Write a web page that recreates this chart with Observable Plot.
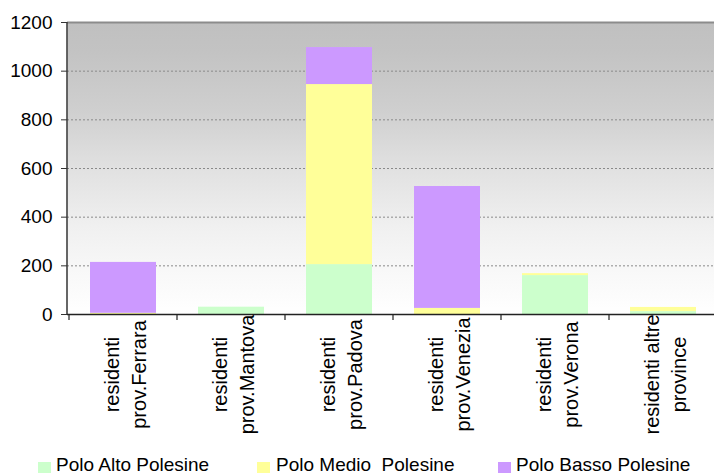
<!DOCTYPE html>
<html>
<head>
<meta charset="utf-8">
<script src="https://cdn.jsdelivr.net/npm/d3@7"></script>
<script src="https://cdn.jsdelivr.net/npm/@observablehq/plot@0.6"></script>
<style>
  html, body { margin: 0; padding: 0; background: #fff; overflow: hidden; }
  body { width: 714px; height: 474px; font-family: "Liberation Sans", Arial, sans-serif; }
  #chart { width: 718px; overflow: visible; }
  #legend { position: absolute; left: 0; top: 454px; width: 714px; height: 22px; font-size: 19px; color: #000; }
  .item { position: absolute; top: 0; line-height: 22px; white-space: pre; }
  .sw { position: absolute; width: 13px; height: 11px; top: 8px; }
</style>
</head>
<body>
<div id="chart"></div>
<div id="legend"></div>
<script>
const categories = [
  "residenti prov.Ferrara",
  "residenti prov.Mantova",
  "residenti prov.Padova",
  "residenti prov.Venezia",
  "residenti prov.Verona",
  "residenti altre province"
];
const tickLabels = [
  "residenti\nprov.Ferrara",
  "residenti\nprov.Mantova",
  "residenti\nprov.Padova",
  "residenti\nprov.Venezia",
  "residenti\nprov.Verona",
  "residenti altre\nprovince"
];
const seriesNames = ["Polo Alto Polesine", "Polo Medio  Polesine", "Polo Basso Polesine"];
const seriesColors = ["#ccffcc", "#ffff99", "#cc99ff"];
const altoValues  = [0, 30, 205, 0, 160, 12];
const medioValues = [5, 0, 740, 25, 8, 17];
const bassoValues = [209, 0, 152, 501, 0, 0];
const yTicks = [0, 200, 400, 600, 800, 1000, 1200];
const gridTicks = [200, 400, 600, 800, 1000];

const seriesValues = [altoValues, medioValues, bassoValues];
const data = [];
seriesNames.forEach((s, si) => {
  categories.forEach((c, ci) => {
    data.push({category: c, series: s, value: seriesValues[si][ci]});
  });
});
const labelOf = new Map(categories.map((c, i) => [c, tickLabels[i]]));

// custom mark: category boundary ticks + left axis line, drawn from the x scale
function frameDecor(index, scales, values, dims) {
  const g = d3.create("svg:g");
  const x = scales.x;
  const bw = x.bandwidth();
  const step = x.step();
  const y0 = dims.height - dims.marginBottom;
  const bounds = [];
  x.domain().forEach(c => { bounds.push(x(c) - (step - bw) / 2); });
  const last = x.domain()[x.domain().length - 1];
  bounds.push(x(last) + bw + (step - bw) / 2);
  bounds.forEach(bx => {
    g.append("line").attr("x1", bx).attr("x2", bx).attr("y1", y0).attr("y2", y0 + 6)
      .attr("stroke", "#222").attr("stroke-width", 1.2);
  });
  g.append("line").attr("x1", dims.marginLeft).attr("x2", dims.marginLeft)
    .attr("y1", dims.marginTop).attr("y2", y0).attr("stroke", "#333").attr("stroke-width", 1.5);
  return g.node();
}

const chart = Plot.plot({
  width: 718,
  height: 454,
  marginLeft: 67,
  marginRight: 0,
  marginTop: 22,
  marginBottom: 140,
  style: {fontFamily: "Liberation Sans, Arial, sans-serif", color: "#000", background: "transparent"},
  x: {domain: categories, paddingInner: 0.39, paddingOuter: 0.195, align: 0.5, axis: null},
  y: {domain: [0, 1200], axis: null},
  color: {domain: seriesNames, range: seriesColors},
  marks: [
    Plot.frame({fill: "url(#bgGrad)", stroke: null}),
    Plot.gridY(gridTicks, {stroke: "#8a8a8a", strokeOpacity: 1, strokeDasharray: "2,2", strokeWidth: 1}),
    Plot.ruleY([1200], {stroke: "#8c8c8c", strokeWidth: 2}),
    Plot.barY(data, {x: "category", y: "value", fill: "series", order: seriesNames}),
    Plot.ruleY([0], {stroke: "#222", strokeWidth: 1.5}),
    frameDecor,
    Plot.axisY({ticks: yTicks, tickSize: 6, tickPadding: 9, fontSize: 19, stroke: "#333",
                label: null, tickFormat: d => String(d)}),
    Plot.text(categories, {
      x: d => d,
      text: d => labelOf.get(d),
      frameAnchor: "bottom",
      dy: 60,
      rotate: -90,
      textAnchor: "middle",
      lineAnchor: "middle",
      lineHeight: 1.36,
      fontSize: 20,
      fill: "#000"
    })
  ]
});

// gradient background definition
const ns = "http://www.w3.org/2000/svg";
const defs = document.createElementNS(ns, "defs");
const grad = document.createElementNS(ns, "linearGradient");
grad.setAttribute("id", "bgGrad");
grad.setAttribute("x1", "0"); grad.setAttribute("y1", "0");
grad.setAttribute("x2", "0"); grad.setAttribute("y2", "1");
[[0, "#c0c0c0"], [0.1, "#c3c3c3"], [0.3, "#cfcfcf"], [0.5, "#e1e1e1"], [0.7, "#f0f0f0"], [0.85, "#f8f8f8"], [1, "#ffffff"]]
  .forEach(([o, c]) => {
    const st = document.createElementNS(ns, "stop");
    st.setAttribute("offset", o);
    st.setAttribute("stop-color", c);
    grad.appendChild(st);
  });
defs.appendChild(grad);
chart.insertBefore(defs, chart.firstChild);
chart.style.display = "block";
chart.style.maxWidth = "none";
chart.style.overflow = "visible";
document.getElementById("chart").appendChild(chart);

// legend below the chart
const legendPos = [{sw: 38, tx: 56}, {sw: 257, tx: 276}, {sw: 498, tx: 516}];
const legend = document.getElementById("legend");
seriesNames.forEach((s, i) => {
  const sw = document.createElement("div");
  sw.className = "sw";
  sw.style.left = legendPos[i].sw + "px";
  sw.style.background = seriesColors[i];
  legend.appendChild(sw);
  const t = document.createElement("div");
  t.className = "item";
  t.style.left = legendPos[i].tx + "px";
  t.textContent = s;
  legend.appendChild(t);
});
</script>
</body>
</html>
